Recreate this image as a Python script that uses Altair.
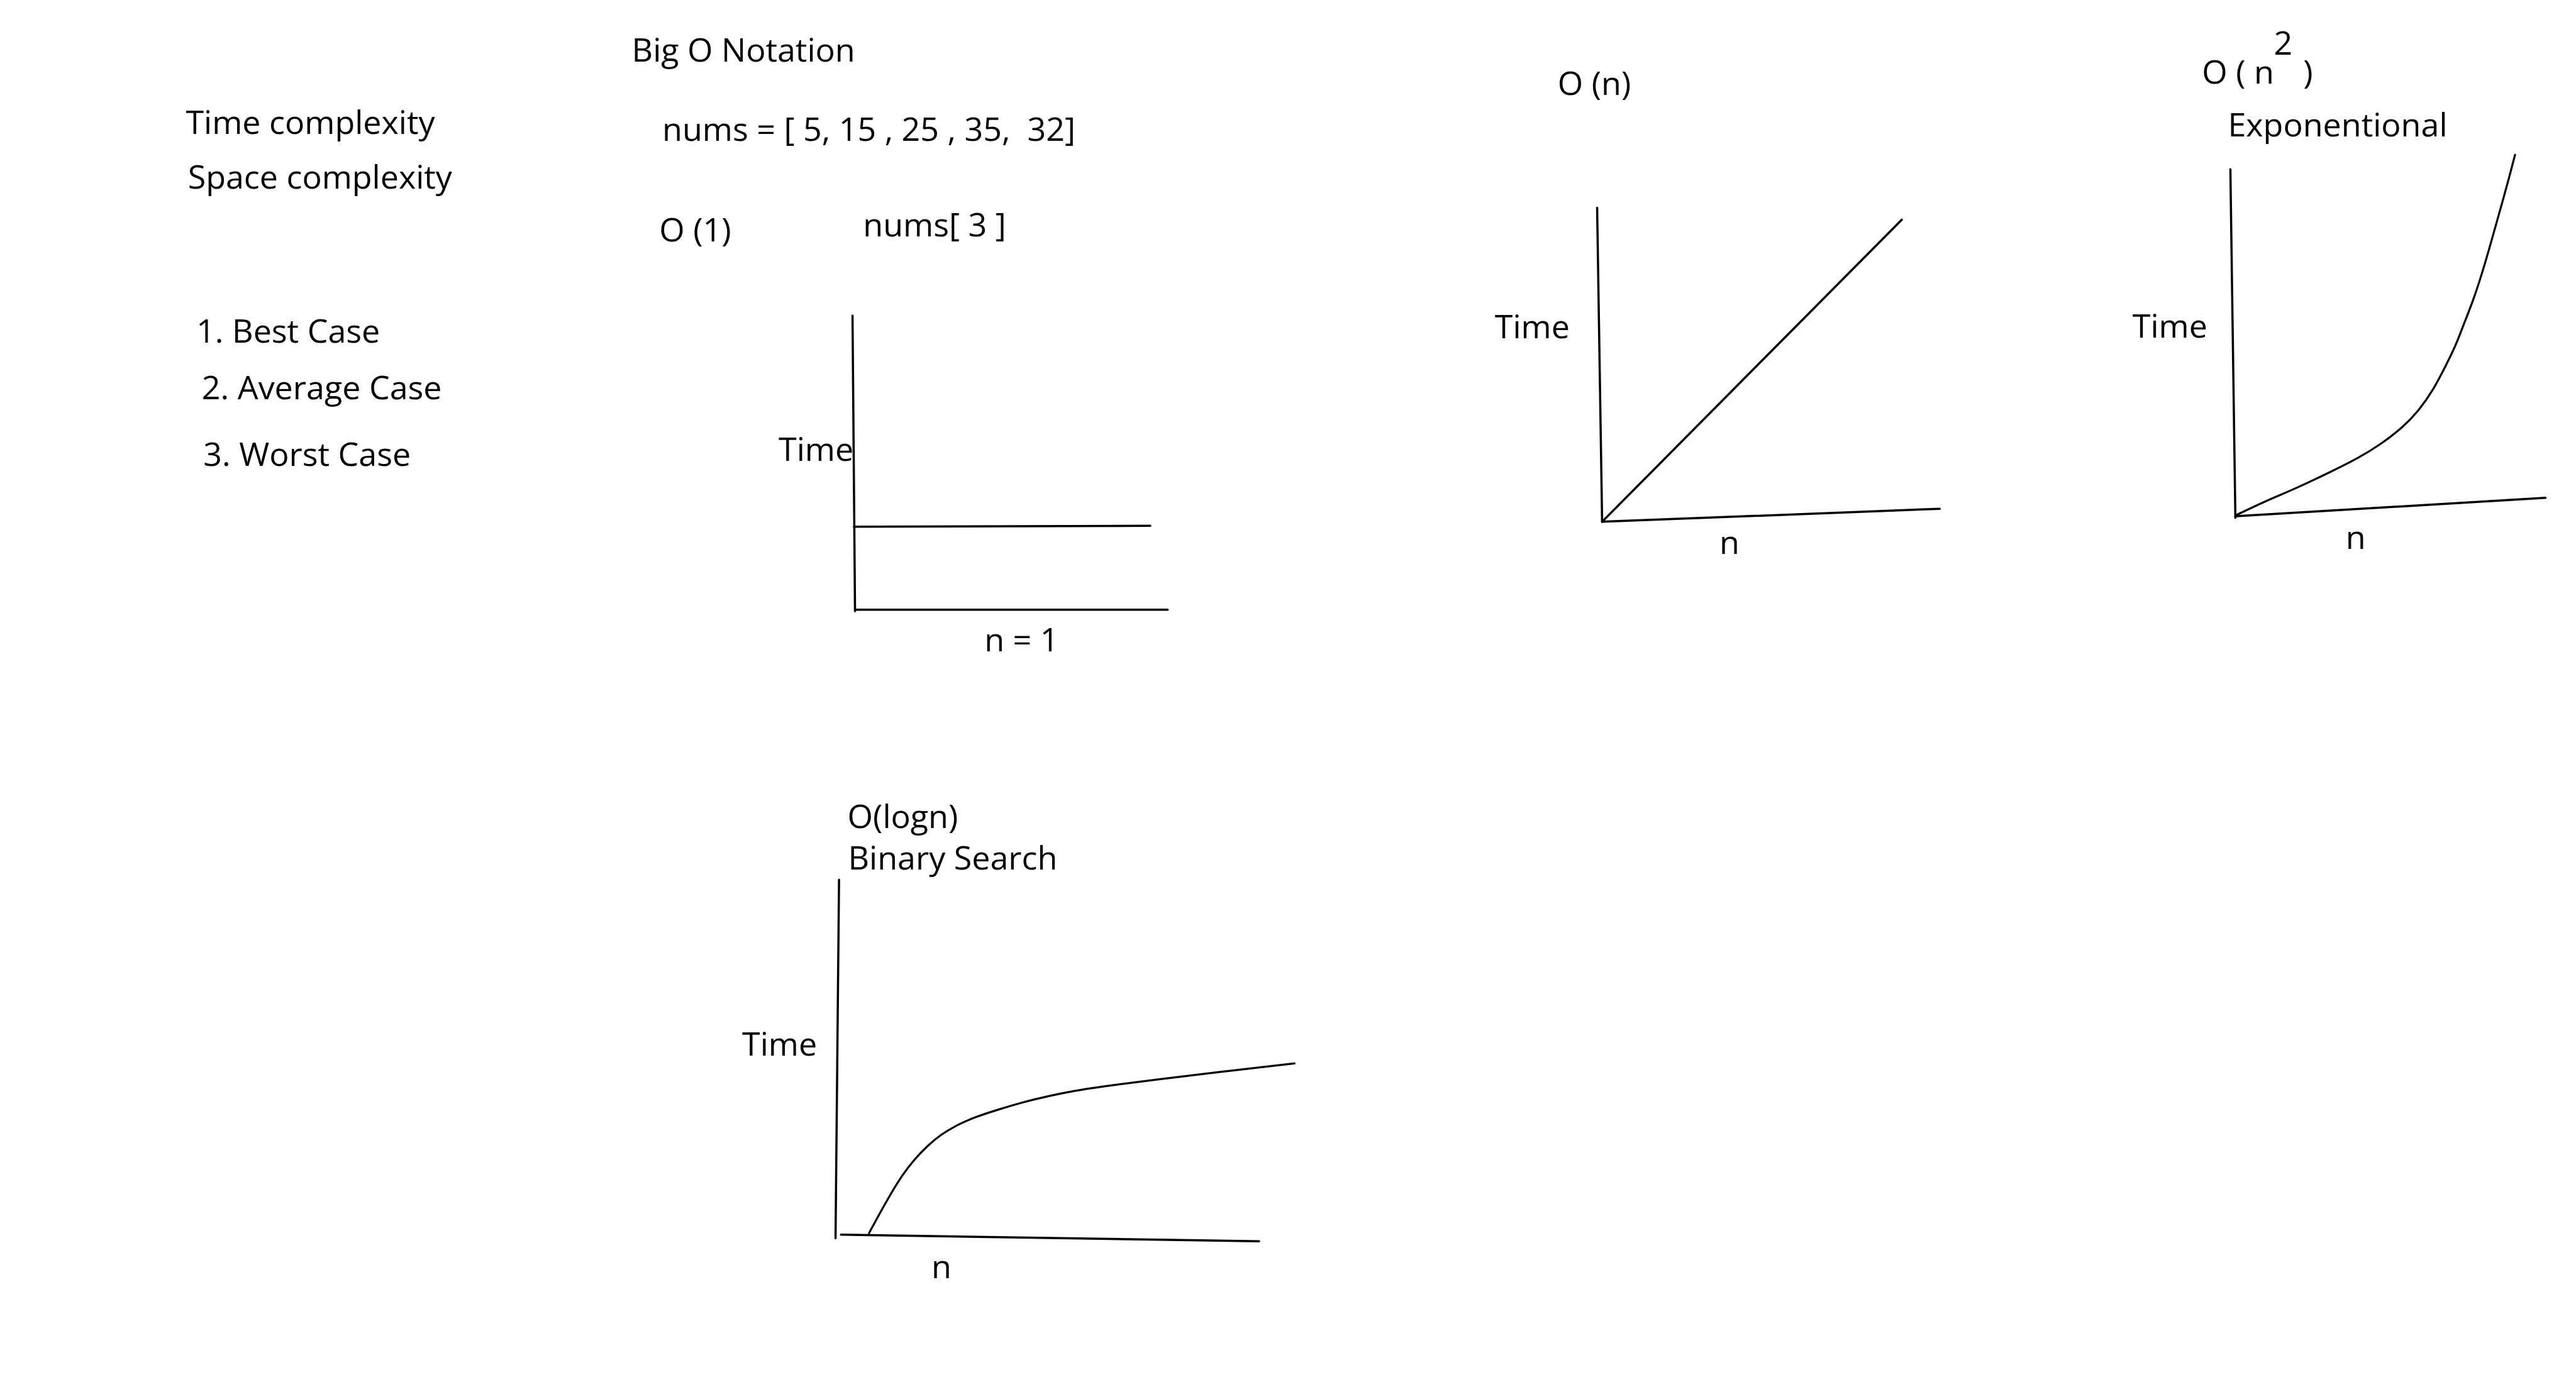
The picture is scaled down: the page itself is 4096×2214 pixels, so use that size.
import altair as alt
import pandas as pd

# ---- straight strokes (reference pixel coordinates) ----
seg_x1 = [1707, 1710, 1712, 3198, 3208, 3208, 4466, 4476, 1680, 1684]
seg_y1 = [632, 1055, 1221, 416, 1045, 1045, 339, 1034, 1762, 2473]
seg_x2 = [1712, 2303, 2338, 3208, 3884, 3808, 4476, 5097, 1673, 2521]
seg_y2 = [1224, 1053, 1221, 1045, 1019, 440, 1037, 997, 2480, 2486]

# ---- curves ----
exp_x = [4477, 4533, 4600, 4667, 4723, 4767, 4810, 4843, 4873, 4897, 4917, 4933,
         4953, 4970, 4983, 4997, 5010, 5023, 5036]
exp_y = [1032, 1005, 977, 945, 917, 890, 857, 823, 780, 733, 693, 650,
         600, 547, 503, 453, 407, 360, 310]
log_x = [1740, 1760, 1783, 1807, 1830, 1857, 1883, 1913, 1950, 2000, 2050, 2100,
         2150, 2200, 2317, 2442, 2592]
log_y = [2470, 2433, 2392, 2353, 2323, 2295, 2273, 2255, 2238, 2222, 2207, 2195,
         2185, 2177, 2162, 2147, 2130]

# ---- texts ----
text_labels = [
    "Big O Notation", "Time complexity", "Space complexity",
    "nums = [ 5, 15 , 25 , 35,\u00a0 32]", "O (1)", "nums[ 3 ]",
    "1. Best Case", "2. Average Case", "3. Worst Case",
    "Time", "n = 1",
    "O (n)", "Time", "n",
    "O ( n", "2", ")", "Exponentional", "Time", "n",
    "O(logn)", "Binary Search", "Time", "n",
]
text_x = [1265, 372, 376, 1326, 1320, 1728, 393, 404, 407, 1559, 1971,
          3119, 2993, 3443, 4409, 4553, 4612, 4461, 4270, 4697,
          1697, 1698, 1486, 1865]
text_y = [123, 268, 378, 282, 484, 474, 686, 800, 933, 923, 1304,
          190, 678, 1109, 168, 110, 168, 273, 676, 1099,
          1659, 1741, 2114, 2560]

seg_df = pd.DataFrame({"x": seg_x1, "y": seg_y1, "x2": seg_x2, "y2": seg_y2})
curve_df = pd.concat([
    pd.DataFrame({"x": exp_x, "y": exp_y, "curve": "exp", "i": range(len(exp_x))}),
    pd.DataFrame({"x": log_x, "y": log_y, "curve": "log", "i": range(len(log_x))}),
])
text_df = pd.DataFrame({"label": text_labels, "x": text_x, "y": text_y})

xs = alt.Scale(domain=[10, 5148], nice=False, zero=False)
ys = alt.Scale(domain=[10, 2778], reverse=True, nice=False, zero=False)

rules = alt.Chart(seg_df).mark_rule(color="black", strokeWidth=3.5, strokeCap="round").encode(
    x=alt.X("x:Q", scale=xs, axis=None),
    y=alt.Y("y:Q", scale=ys, axis=None),
    x2="x2:Q",
    y2="y2:Q",
)

curves = alt.Chart(curve_df).mark_line(
    color="black", strokeWidth=3.2, interpolate="basis", strokeCap="round"
).encode(
    x=alt.X("x:Q", scale=xs, axis=None),
    y=alt.Y("y:Q", scale=ys, axis=None),
    detail="curve:N",
    order="i:Q",
)

texts = alt.Chart(text_df).mark_text(
    align="left", baseline="alphabetic", font="Open Sans", fontSize=52, color="black"
).encode(
    x=alt.X("x:Q", scale=xs, axis=None),
    y=alt.Y("y:Q", scale=ys, axis=None),
    text="label:N",
)

chart = alt.layer(rules, curves, texts).properties(
    width=4080, height=2198, padding=0, autosize="none", background="white"
).configure_view(stroke=None)

chart.save("out.html", embed_options={"renderer": "svg", "actions": False})
